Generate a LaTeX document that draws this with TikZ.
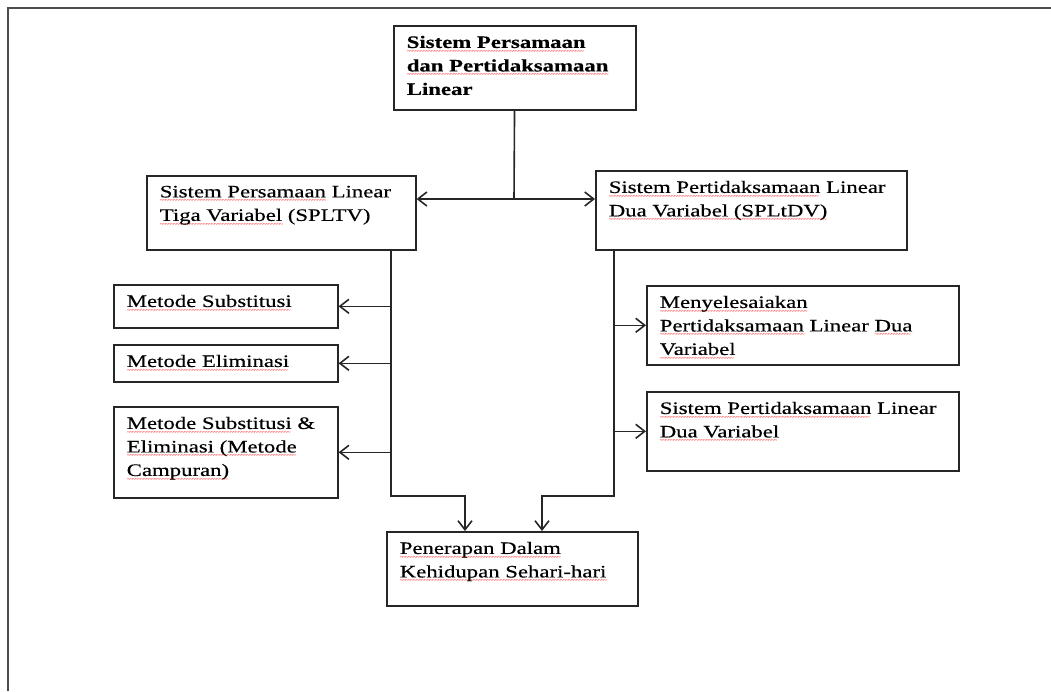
\documentclass[tikz,border=0pt]{standalone}
\usepackage{fontspec}
\setmainfont{Liberation Serif}[FakeStretch=1.3, FakeBold=0.4]
\newfontfamily\ejafont{Liberation Serif}
\usepackage{tikz}
\usetikzlibrary{arrows.meta, calc}

% red spell-check squiggle under a word group
\newcommand\eja[1]{\leavevmode\setbox0\hbox{#1}%
  \rlap{\raisebox{-5.5pt}[0pt][0pt]{\color{red}\ejafont\mdseries\fontsize{6.5}{6.5}\selectfont
    \hbox to\wd0{\leaders\hbox{\textasciitilde\kern-0.8pt}\hfill}}}\box0\relax}

\begin{document}
\begin{tikzpicture}[x=1pt, y=-1pt,
  kotak/.style 2 args={draw=black!85, line width=1.6pt, rectangle, anchor=north west,
    inner xsep=13pt, inner ysep=10pt,
    execute at begin node={\begin{minipage}[t][#2][t]{#1}\raggedright\fontsize{17.5}{23.5}\selectfont},
    execute at end node={\end{minipage}}},
  garis/.style={draw=black!85, line width=1.6pt},
  >={Straight Barb[length=9pt, width=14pt]}]
\useasboundingbox (0,0) rectangle (1051,691);
% Frame
\draw[line width=2pt, black!70] (8,691) -- (8,8) -- (1051,8);

% Main topic
\node[kotak={216pt}{64pt}] (utama) at (393,25) {\textbf{\eja{Sistem Persamaan}\\\eja{dan Pertidaksamaan}\\Linear}};
\node[kotak={243pt}{54pt}] (spltv) at (146,175) {\eja{Sistem Persamaan} Linear\\\eja{Tiga Variabel} (SPLTV)};
\node[kotak={285pt}{59pt}] (spltdv) at (595,170) {\eja{Sistem Pertidaksamaan} Linear\\\eja{Dua Variabel (SPLtDV)}};

% SPLTV methods
\node[kotak={198pt}{23pt}] (subst) at (113,284) {\eja{Metode Substitusi}};
\node[kotak={198pt}{17pt}] (elim) at (113,344) {\eja{Metode Eliminasi}};
\node[kotak={198pt}{71pt}] (campur) at (113,406) {\eja{Metode Substitusi} \&\\\eja{Eliminasi (Metode}\\\eja{Campuran)}};

% SPLtDV topics
\node[kotak={286pt}{59pt}] (selesai) at (646,285) {\eja{Menyelesaiakan}\\\eja{Pertidaksamaan} Linear \eja{Dua}\\\eja{Variabel}};
\node[kotak={286pt}{59pt}] (sptdv) at (646,391) {\eja{Sistem Pertidaksamaan} Linear\\\eja{Dua Variabel}};

% Application
\node[kotak={225pt}{54pt}] (terap) at (386,531) {\eja{Penerapan Dalam}\\\eja{Kehidupan Sehari-hari}};

\coordinate (cabang) at (514,199);
\coordinate (tkiri) at (391,496);
\coordinate (tkanan) at (614,496);
\coordinate (bkiri) at (465,496);
\coordinate (bkanan) at (542,496);

\draw[garis] (utama) -- (cabang);
\draw[garis, <->] (cabang -| spltv.east) -- (cabang -| spltdv.west);

\draw[garis, ->] (spltv.south -| tkiri) -- (tkiri) -- (bkiri) -- (terap.north -| bkiri);
\draw[garis, ->] (spltdv.south -| tkanan) -- (tkanan) -- (bkanan) -- (terap.north -| bkanan);

\draw[garis, ->] (subst.east -| tkiri) -- (subst.east);
\draw[garis, ->] (elim.east -| tkiri) -- (elim.east);
\draw[garis, ->] (campur.east -| tkiri) -- (campur.east);

\draw[garis, ->] (selesai.west -| tkanan) -- (selesai.west);
\draw[garis, ->] (sptdv.west -| tkanan) -- (sptdv.west);
\end{tikzpicture}
\end{document}
